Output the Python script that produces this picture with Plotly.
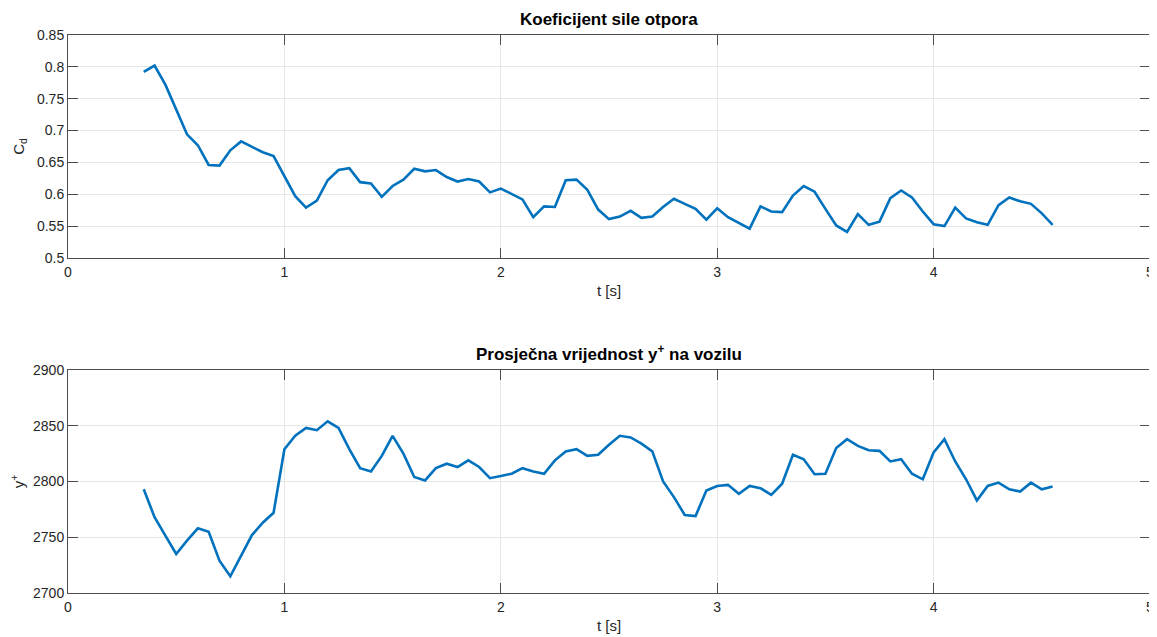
import plotly.graph_objects as go

# time axis: samples from 0.35 s to 4.55 s every 0.05 s
t = [round(0.35 + 0.05 * i, 2) for i in range(85)]

cd = [0.792, 0.802, 0.772, 0.733, 0.694, 0.677, 0.646, 0.645, 0.669, 0.683,
      0.674, 0.666, 0.660, 0.628, 0.597, 0.579, 0.590, 0.622, 0.638, 0.641,
      0.619, 0.617, 0.596, 0.613, 0.623, 0.640, 0.636, 0.638, 0.627, 0.620,
      0.624, 0.620, 0.603, 0.609, 0.601, 0.592, 0.564, 0.581, 0.580, 0.622,
      0.623, 0.607, 0.576, 0.561, 0.565, 0.574, 0.563, 0.565, 0.580, 0.593,
      0.585, 0.577, 0.560, 0.578, 0.564, 0.555, 0.546, 0.581, 0.573, 0.572,
      0.598, 0.613, 0.604, 0.577, 0.551, 0.541, 0.569, 0.552, 0.557, 0.594,
      0.606, 0.595, 0.573, 0.553, 0.550, 0.579, 0.562, 0.556, 0.552, 0.583,
      0.595, 0.589, 0.585, 0.570, 0.552]

yplus = [2793, 2768, 2751.5, 2735, 2747, 2758, 2755, 2729, 2715, 2734,
         2752, 2763, 2772, 2829, 2841, 2848, 2846, 2854, 2848, 2829,
         2812, 2809, 2823, 2841, 2825, 2804, 2801, 2812, 2816, 2813,
         2819, 2813, 2803, 2805, 2807, 2812, 2809, 2807, 2819, 2827,
         2829, 2823, 2824, 2833, 2841, 2839.5, 2834, 2827, 2800, 2786,
         2770, 2769, 2792, 2796, 2797, 2789, 2796, 2794, 2788, 2798,
         2824, 2820, 2806.5, 2807, 2830, 2838, 2832, 2828, 2827.5, 2818,
         2820, 2807, 2802, 2826, 2838, 2818, 2802, 2783, 2796, 2799,
         2793, 2791, 2799, 2793, 2795.5]

x_ticks = [0, 1, 2, 3, 4, 5]
cd_ticks = [0.5, 0.55, 0.6, 0.65, 0.7, 0.75, 0.8, 0.85]
cd_ticklabels = ["0.5", "0.55", "0.6", "0.65", "0.7", "0.75", "0.8", "0.85"]
yp_ticks = [2700, 2750, 2800, 2850, 2900]

title_top = "<b>Koeficijent sile otpora</b>"
title_bottom = "<b>Prosječna vrijednost y<sup>+</sup> na vozilu</b>"

LINE = "#0072BD"
AX = "#4d4d4d"
TXT = "#262626"
GRID = "#e6e6e6"
FONT = "Liberation Sans, Arial, Helvetica, sans-serif"

fig = go.Figure()
fig.add_trace(go.Scatter(x=t, y=cd, mode="lines", line=dict(color=LINE, width=2.6),
                         xaxis="x", yaxis="y", showlegend=False))
fig.add_trace(go.Scatter(x=t, y=yplus, mode="lines", line=dict(color=LINE, width=2.6),
                         xaxis="x2", yaxis="y2", showlegend=False))

common_x = dict(range=[0, 5], tickvals=x_ticks, ticks="inside", ticklen=10,
                tickcolor=AX, showline=True, linecolor=AX, linewidth=1, mirror="ticks",
                showgrid=True, gridcolor=GRID, gridwidth=1, zeroline=False,
                automargin=False, ticklabeloverflow="allow", ticklabelstandoff=1,
                tickfont=dict(family=FONT, size=14, color=TXT),
                title=dict(text="t [s]", font=dict(family=FONT, size=15, color=TXT), standoff=6))
common_y = dict(ticks="inside", ticklen=10, tickcolor=AX, showline=True, linecolor=AX,
                linewidth=1, mirror="ticks", showgrid=True, gridcolor=GRID, gridwidth=1,
                zeroline=False, automargin=False, ticklabeloverflow="allow",
                tickfont=dict(family=FONT, size=14, color=TXT))

# the page places the figure 8 px from the top-left corner of the window
fig.update_layout(
    width=1149, height=629,
    margin=dict(l=60, r=7, t=27, b=44),
    paper_bgcolor="white", plot_bgcolor="white",
    font=dict(family=FONT, color=TXT),
    xaxis=dict(domain=[0, 1], anchor="y", **common_x),
    yaxis=dict(domain=[0.6004, 1.0], anchor="x", range=[0.5, 0.85], tickvals=cd_ticks,
               ticktext=cd_ticklabels,
               title=dict(text="C<sub>d</sub>", font=dict(family=FONT, size=15, color=TXT), standoff=8),
               **common_y),
    xaxis2=dict(domain=[0, 1], anchor="y2", **common_x),
    yaxis2=dict(domain=[0, 0.3996], anchor="x2", range=[2700, 2900], tickvals=yp_ticks,
                title=dict(text="y<sup>+</sup>", font=dict(family=FONT, size=15, color=TXT), standoff=8),
                **common_y),
    annotations=[
        dict(text=title_top, xref="paper", yref="paper", x=0.5, y=1.0, yshift=4,
             xanchor="center", yanchor="bottom", showarrow=False,
             font=dict(family=FONT, size=17, color="black")),
        dict(text=title_bottom, xref="paper", yref="paper", x=0.5, y=0.3996, yshift=4,
             xanchor="center", yanchor="bottom", showarrow=False,
             font=dict(family=FONT, size=17, color="black")),
    ],
)

fig.write_html("out.html")
